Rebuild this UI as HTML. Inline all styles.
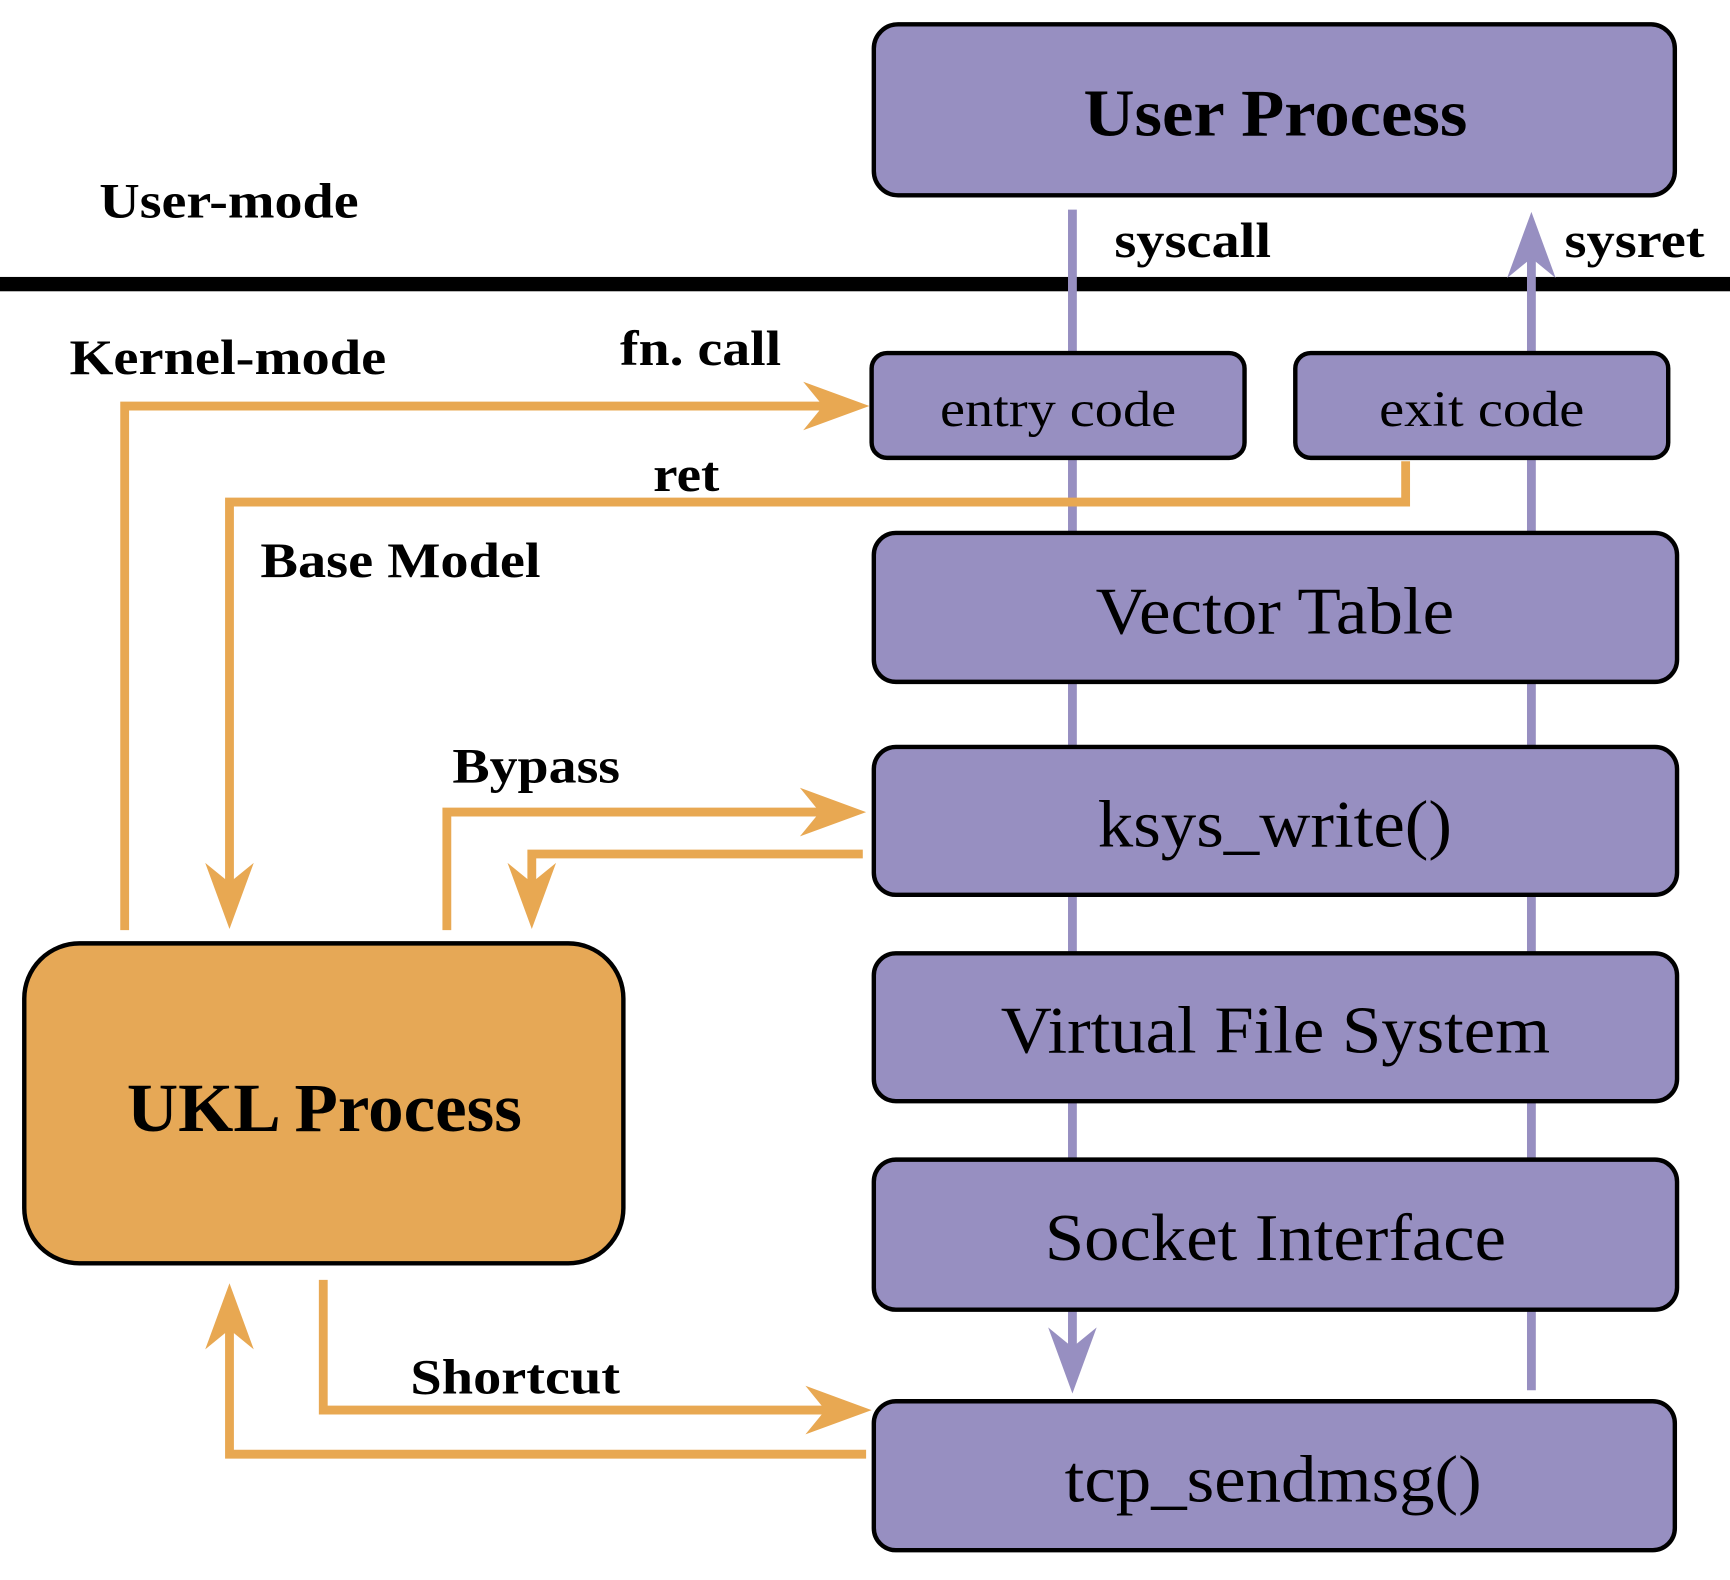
<!DOCTYPE html>
<html><head><meta charset="utf-8"><style>
html,body{margin:0;padding:0;background:#fff;}
svg{display:block;}
text{font-family:"Liberation Serif",serif;}
.b{font-weight:bold;}
</style></head><body>
<svg width="1730" height="1580" viewBox="0 0 1568 1432" preserveAspectRatio="none" xmlns="http://www.w3.org/2000/svg">
<defs>
<g id="ao"><polygon points="0,0 -60,-22 -42,0 -60,22" fill="#e8a852"/></g>
<g id="ap"><polygon points="0,0 -60,-22 -42,0 -60,22" fill="#978fc1"/></g>
</defs>
<rect width="1568" height="1432" fill="#fff"/>
<rect x="0" y="251" width="1568" height="13" fill="#000"/>
<line x1="972" y1="190" x2="972" y2="1235" stroke="#978fc1" stroke-width="8"/>
<use href="#ap" transform="translate(972,1263) rotate(90)"/>
<line x1="1388" y1="1260" x2="1388" y2="220" stroke="#978fc1" stroke-width="8"/>
<use href="#ap" transform="translate(1388,192) rotate(-90)"/>
<g stroke="#000" stroke-width="4" fill="#978fc1">
<rect x="792" y="22" width="726" height="155" rx="22"/>
<rect x="790" y="320" width="338" height="95" rx="14"/>
<rect x="1174" y="320" width="338" height="95" rx="14"/>
<rect x="792" y="483" width="728" height="135" rx="20"/>
<rect x="792" y="677" width="728" height="134" rx="20"/>
<rect x="792" y="864" width="728" height="134" rx="20"/>
<rect x="792" y="1051" width="728" height="136" rx="20"/>
<rect x="792" y="1270" width="726" height="135" rx="20"/>
<rect x="22" y="855" width="543" height="290" rx="50" fill="#e6a856"/>
</g>
<g stroke="#e8a852" stroke-width="8" fill="none">
<polyline points="113,843 113,368 760,368"/>
<polyline points="1274,418 1274,455 208,455 208,815"/>
<polyline points="405,843 405,736 760,736"/>
<polyline points="782,774 482,774 482,815"/>
<polyline points="293,1160 293,1278 765,1278"/>
<polyline points="785,1318 208,1318 208,1190"/>
</g>
<use href="#ao" transform="translate(788,368)"/>
<use href="#ao" transform="translate(208,842) rotate(90)"/>
<use href="#ao" transform="translate(785,736)"/>
<use href="#ao" transform="translate(482,842) rotate(90)"/>
<use href="#ao" transform="translate(790,1278)"/>
<use href="#ao" transform="translate(208,1163) rotate(-90)"/>
<g fill="#000">
<text x="982" y="123" font-size="60" class="b" textLength="348" lengthAdjust="spacingAndGlyphs">User Process</text>
<text x="90" y="197" font-size="45" class="b" textLength="235" lengthAdjust="spacingAndGlyphs">User-mode</text>
<text x="63" y="339" font-size="45" class="b" textLength="287" lengthAdjust="spacingAndGlyphs">Kernel-mode</text>
<text x="1010" y="233" font-size="45" class="b" textLength="142" lengthAdjust="spacingAndGlyphs">syscall</text>
<text x="1418" y="233" font-size="45" class="b" textLength="127" lengthAdjust="spacingAndGlyphs">sysret</text>
<text x="562" y="331" font-size="45" class="b" textLength="146" lengthAdjust="spacingAndGlyphs">fn. call</text>
<text x="592" y="445" font-size="45" class="b" textLength="60" lengthAdjust="spacingAndGlyphs">ret</text>
<text x="236" y="523" font-size="45" class="b" textLength="254" lengthAdjust="spacingAndGlyphs">Base Model</text>
<text x="410" y="709" font-size="45" class="b" textLength="152" lengthAdjust="spacingAndGlyphs">Bypass</text>
<text x="372" y="1263" font-size="45" class="b" textLength="190" lengthAdjust="spacingAndGlyphs">Shortcut</text>
<text x="852" y="386" font-size="46" textLength="214" lengthAdjust="spacingAndGlyphs">entry code</text>
<text x="1250" y="386" font-size="46" textLength="186" lengthAdjust="spacingAndGlyphs">exit code</text>
<text x="993" y="574" font-size="60" textLength="325" lengthAdjust="spacingAndGlyphs">Vector Table</text>
<text x="995" y="767" font-size="60" textLength="321" lengthAdjust="spacingAndGlyphs">ksys_write()</text>
<text x="907" y="954" font-size="60" textLength="498" lengthAdjust="spacingAndGlyphs">Virtual File System</text>
<text x="947" y="1142" font-size="60" textLength="418" lengthAdjust="spacingAndGlyphs">Socket Interface</text>
<text x="965" y="1361" font-size="60" textLength="378" lengthAdjust="spacingAndGlyphs">tcp_sendmsg()</text>
<text x="115" y="1025" font-size="62" class="b" textLength="358" lengthAdjust="spacingAndGlyphs">UKL Process</text>
</g>
</svg>
</body></html>
